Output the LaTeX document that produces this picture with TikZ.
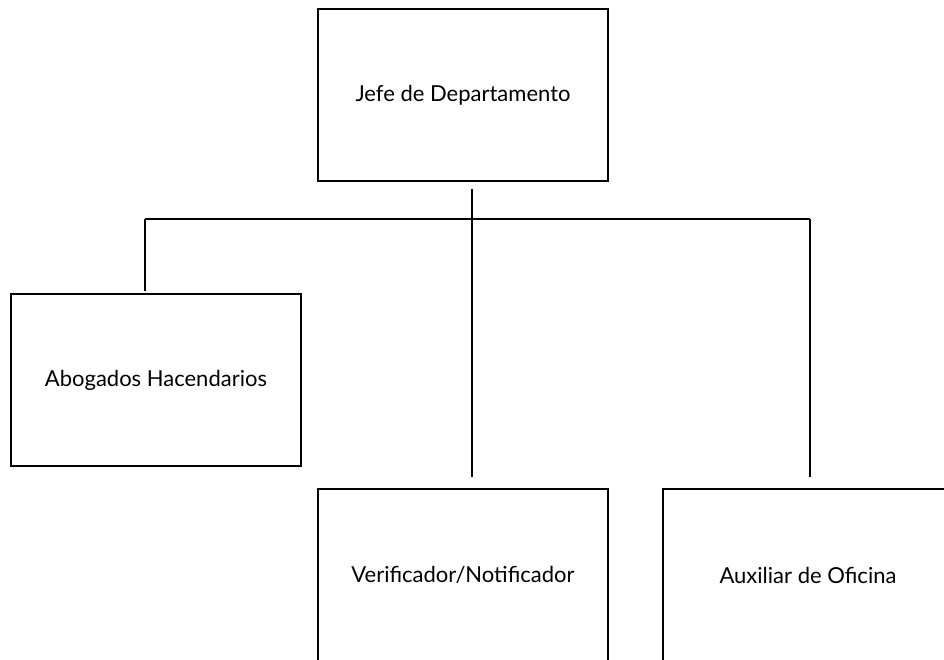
\documentclass[tikz,border=0pt]{standalone}
\usepackage{fontspec}
\setmainfont{Lato}
\usepackage{tikz}

\begin{document}
\begin{tikzpicture}[
    x=1pt, y=-1pt,
    puesto/.style={draw, line width=2pt, minimum width=290pt, minimum height=172pt,
        inner sep=0pt, font=\fontsize{22}{26}\selectfont},
    link/.style={line width=1.6pt}
]
    \clip (0,0) rectangle (944,660);
    % boxes
    \node[puesto] (jefe) at (463,95) {Jefe de Departamento};
    \node[puesto] (abog) at (156,380) {Abogados Hacendarios};
    \node[puesto] (verif) at (463,575) {Verificador/Notificador};
    \node[puesto] (aux) at (808,575) {Auxiliar de Oficina};
    % bus points
    \coordinate (jefeDown) at (472,189);
    \coordinate (busL) at (145,219);
    \coordinate (busM) at (472,219);
    \coordinate (busR) at (810,219);
    \coordinate (abogUp) at (145,291);
    \coordinate (verifUp) at (472,477);
    \coordinate (auxUp) at (810,477);
    % connectors
    \draw[link] (busL) -- (busR);
    \draw[link] (jefeDown) -- (busM) -- (verifUp);
    \draw[link] (busL) -- (abogUp);
    \draw[link] (busR) -- (auxUp);
\end{tikzpicture}
\end{document}
